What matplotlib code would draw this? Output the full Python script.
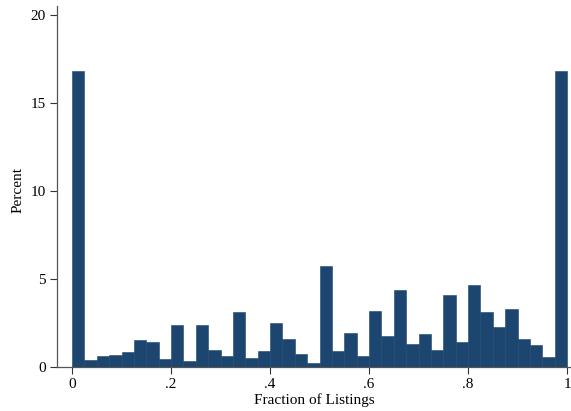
import numpy as np
import matplotlib
matplotlib.use("Agg")
import matplotlib.pyplot as plt

# Histogram of fraction of listings, 40 equal-width bins on [0, 1], in percent
bin_edges = np.linspace(0, 1, 41)
percent = [
    16.83, 0.38, 0.61, 0.67, 0.84, 1.52, 1.41, 0.44, 2.37, 0.32,
    2.37, 0.95, 0.61, 3.11, 0.50, 0.89, 2.49, 1.58, 0.72, 0.21,
    5.72, 0.91, 1.94, 0.61, 3.17, 1.75, 4.37, 1.29, 1.86, 0.95,
    4.08, 1.42, 4.65, 3.11, 2.26, 3.28, 1.58, 1.24, 0.55, 16.83,
]
x_ticks = [0, 0.2, 0.4, 0.6, 0.8, 1.0]
x_ticklabels = ["0", ".2", ".4", ".6", ".8", "1"]
y_ticks = [0, 5, 10, 15, 20]

plt.rcParams["font.family"] = ["Liberation Serif", "DejaVu Serif"]
plt.rcParams["font.size"] = 11

fig = plt.figure(figsize=(5.71, 4.11), dpi=100)
ax = fig.add_axes([57 / 571, (411 - 366.7) / 411, 1 - 57 / 571, (366.7 - 6) / 411])

bar_color = "#1c4670"
ax.bar(bin_edges[:-1], percent, width=np.diff(bin_edges), align="edge",
       color=bar_color, edgecolor=bar_color, linewidth=0.4)

ax.set_xlim(-15 / 495, 1 + 4 / 495)
ax.set_ylim(0, 20.53)

ax.set_xticks(x_ticks)
ax.set_xticklabels(x_ticklabels)
ax.set_yticks(y_ticks)
ax.tick_params(direction="out", length=5, width=0.8, color="#333333", pad=3)

for side in ("top", "right"):
    ax.spines[side].set_visible(False)
for side in ("left", "bottom"):
    ax.spines[side].set_color("#555555")
    ax.spines[side].set_linewidth(0.9)

ax.set_xlabel("Fraction of Listings", labelpad=2)
ax.set_ylabel("Percent")
ax.yaxis.set_label_coords(-0.064, 0.49)

fig.savefig("out.png", dpi=100)
